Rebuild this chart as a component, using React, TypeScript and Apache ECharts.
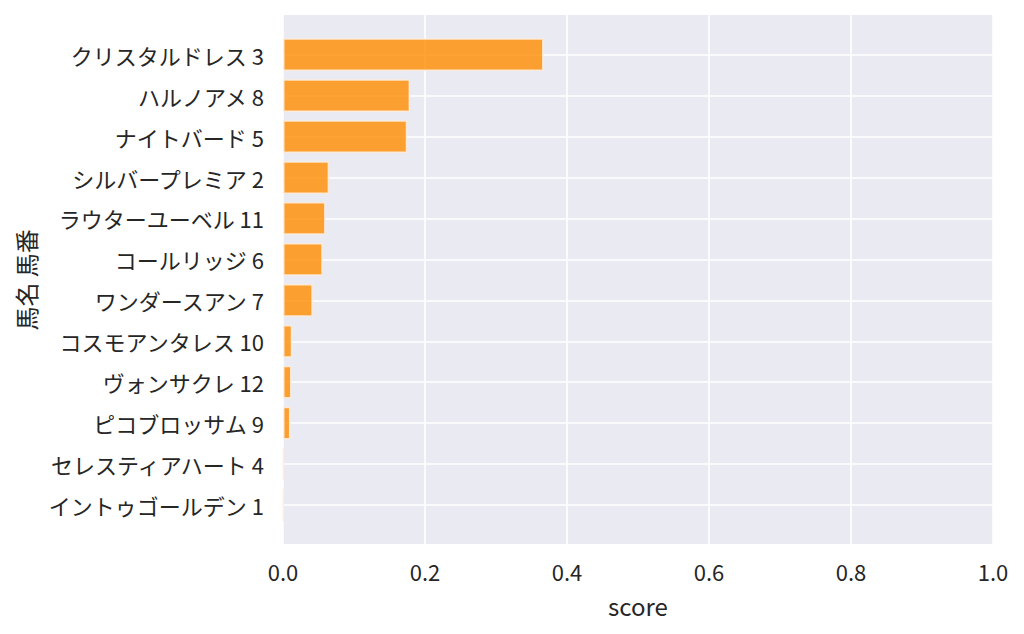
import React, { useEffect, useRef } from "react";
import * as echarts from "echarts";

const horseNames: string[] = [
  "クリスタルドレス 3",
  "ハルノアメ 8",
  "ナイトバード 5",
  "シルバープレミア 2",
  "ラウターユーベル 11",
  "コールリッジ 6",
  "ワンダースアン 7",
  "コスモアンタレス 10",
  "ヴォンサクレ 12",
  "ピコブロッサム 9",
  "セレスティアハート 4",
  "イントゥゴールデン 1",
];

const scores: number[] = [
  0.367, 0.179, 0.175, 0.065, 0.06, 0.056, 0.042, 0.013, 0.012, 0.0105, 0.001, 0.0005,
];

const xTicks: number[] = [0, 0.2, 0.4, 0.6, 0.8, 1.0];

const FONT = "Noto Sans CJK JP";
const TEXT = "#262626";

export default function App() {
  const ref = useRef<HTMLDivElement>(null);

  useEffect(() => {
    if (!ref.current) return;
    const chart = echarts.init(ref.current, undefined, { renderer: "svg" });
    chart.setOption({
      animation: false,
      backgroundColor: "#ffffff",
      textStyle: { fontFamily: FONT },
      grid: [
        {
          left: 283,
          right: 31,
          top: 15,
          bottom: 90,
          show: true,
          backgroundColor: "#eaeaf2",
          borderWidth: 0,
        },
        {
          left: 283,
          right: 31,
          top: 54.7,
          bottom: 129,
          show: false,
        },
      ],
      xAxis: [
        {
          type: "value",
          gridIndex: 0,
          min: 0,
          max: 1,
          interval: 0.2,
          axisLine: { show: false },
          axisTick: { show: false },
          splitLine: { show: true, lineStyle: { color: "#ffffff", width: 1.6 } },
          axisLabel: {
            show: true,
            color: TEXT,
            fontSize: 22,
            fontFamily: FONT,
            margin: 16,
            formatter: (v: number) => (xTicks.includes(Number(v.toFixed(1))) ? v.toFixed(1) : ""),
          },
          name: "score",
          nameLocation: "middle",
          nameGap: 49,
          nameTextStyle: { color: TEXT, fontSize: 24, fontFamily: FONT },
        },
        {
          type: "value",
          gridIndex: 1,
          min: 0,
          max: 1,
          show: false,
          splitLine: { show: false },
        },
      ],
      yAxis: [
        {
          type: "category",
          gridIndex: 1,
          data: horseNames,
          inverse: true,
          boundaryGap: false,
          axisLine: { show: false },
          axisTick: { show: false },
          splitLine: { show: true, lineStyle: { color: "#ffffff", width: 1.6 } },
          axisLabel: {
            color: TEXT,
            fontSize: 22,
            fontFamily: FONT,
            margin: 19,
            interval: 0,
          },
          name: "馬名 馬番",
          nameLocation: "middle",
          nameGap: 245,
          nameRotate: 90,
          nameTextStyle: { color: TEXT, fontSize: 24, fontFamily: FONT },
        },
        {
          type: "value",
          gridIndex: 0,
          show: false,
          splitLine: { show: false },
        },
      ],
      series: [
        {
          type: "bar",
          xAxisIndex: 1,
          yAxisIndex: 0,
          data: scores,
          barWidth: "80%",
          clip: false,
          itemStyle: {
            color: "rgba(255,140,0,0.8)",
            borderColor: "rgba(255,236,218,0.9)",
            borderWidth: 1.5,
          },
        },
      ],
    });
    return () => chart.dispose();
  }, []);

  return <div ref={ref} style={{ width: 1024, height: 634, margin: -8 }} />;
}
